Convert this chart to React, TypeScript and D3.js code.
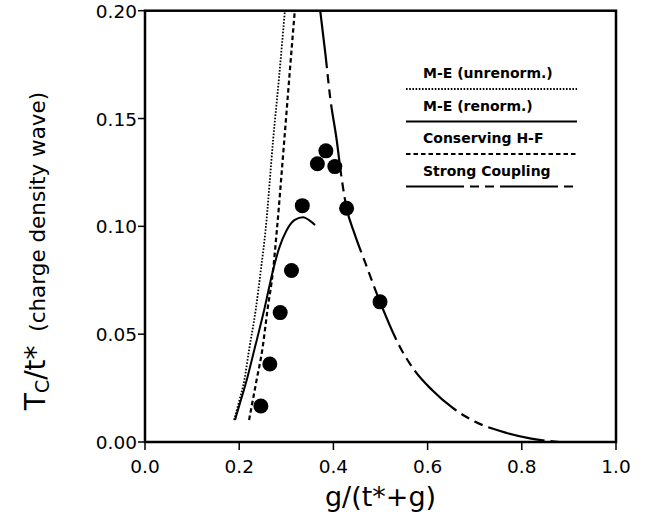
import { useEffect } from "react";
import * as d3 from "d3";

const W = 657;
const H = 518;

const xTicks = [0, 0.2, 0.4, 0.6, 0.8, 1.0];
const yTicks = [0, 0.05, 0.1, 0.15, 0.2];

// measured points (gap ratio g/(t*+g) , Tc/t*)
const meUnrenorm = [
  [0.189, 0.0102], [0.2, 0.019], [0.211, 0.0288], [0.221, 0.0427],
  [0.235, 0.0612], [0.246, 0.0798], [0.256, 0.0983], [0.272, 0.14],
  [0.285, 0.17], [0.297, 0.2],
];
const meRenorm = [
  [0.191, 0.0102], [0.203, 0.019], [0.216, 0.0288], [0.232, 0.0427],
  [0.253, 0.0612], [0.272, 0.0798], [0.285, 0.09], [0.301, 0.0983],
  [0.318, 0.103], [0.336, 0.1042], [0.349, 0.1028], [0.361, 0.1006],
];
const conservingHF = [
  [0.221, 0.0102], [0.237, 0.0288], [0.249, 0.0427], [0.26, 0.0612],
  [0.272, 0.0798], [0.28, 0.0983], [0.295, 0.138], [0.306, 0.168],
  [0.318, 0.2],
];
const strongCoupling = [
  [0.372, 0.2], [0.383, 0.18], [0.393, 0.16], [0.407, 0.14],
  [0.417, 0.123], [0.428, 0.1085], [0.445, 0.0965], [0.467, 0.0835],
  [0.499, 0.065], [0.541, 0.0442], [0.573, 0.033], [0.61, 0.024],
  [0.652, 0.016], [0.7, 0.0095], [0.768, 0.0042], [0.82, 0.0016],
  [0.88, 0],
];
const qmcX = [0.246, 0.265, 0.287, 0.311, 0.334, 0.366, 0.384, 0.403, 0.428, 0.499];
const qmcY = [0.0167, 0.0362, 0.06, 0.0795, 0.1096, 0.129, 0.135, 0.1277, 0.1084, 0.065];

const legend = [
  { label: "M-E (unrenorm.)", dash: "1.6,1.6", width: 1.8 },
  { label: "M-E (renorm.)", dash: null, width: 2 },
  { label: "Conserving H-F", dash: "4.5,3", width: 2.2 },
  { label: "Strong Coupling", dash: "58,6,9,6,9,6", width: 2.2 },
];

const FONT = "'DejaVu Sans', sans-serif";

export default function App() {
  useEffect(() => {
    document.body.style.margin = "0";
  }, []);

  const x = d3.scaleLinear().domain([0, 1]).range([145, 616]);
  const y = d3.scaleLinear().domain([0, 0.2]).range([442, 10.7]);

  const line = d3
    .line<number[]>()
    .x((d) => x(d[0]))
    .y((d) => y(d[1]))
    .curve(d3.curveMonotoneX);

  return (
    <svg width={W} height={H} style={{ display: "block", background: "#fff" }}>
      <defs>
        <clipPath id="plot">
          <rect x={x(0)} y={y(0.2)} width={x(1) - x(0)} height={y(0) - y(0.2)} />
        </clipPath>
      </defs>

      <g clipPath="url(#plot)" fill="none" stroke="#000">
        <path d={line(meUnrenorm) || ""} strokeWidth={1.8} strokeDasharray="1.6,1.6" />
        <path d={line(meRenorm) || ""} strokeWidth={2} />
        <path d={line(conservingHF) || ""} strokeWidth={2.2} strokeDasharray="4.5,3" />
        <path d={line(strongCoupling) || ""} strokeWidth={2.2} strokeDasharray="58,6,9,6,9,6" />
      </g>

      {qmcX.map((v, i) => (
        <circle key={i} cx={x(v)} cy={y(qmcY[i])} r={7.5} fill="#000" />
      ))}

      {/* frame */}
      <rect
        x={x(0)}
        y={y(0.2)}
        width={x(1) - x(0)}
        height={y(0) - y(0.2)}
        fill="none"
        stroke="#000"
        strokeWidth={2.5}
      />

      {xTicks.map((t) => (
        <g key={t}>
          <line x1={x(t)} x2={x(t)} y1={y(0)} y2={y(0) + 8} stroke="#000" strokeWidth={1.5} />
          <text
            x={x(t)}
            y={y(0) + 31}
            textAnchor="middle"
            fontFamily={FONT}
            fontSize={18.5}
          >
            {t.toFixed(1)}
          </text>
        </g>
      ))}

      {yTicks.map((t) => (
        <g key={t}>
          <line x1={x(0) - 7} x2={x(0)} y1={y(t)} y2={y(t)} stroke="#000" strokeWidth={1.5} />
          <text
            x={x(0) - 8}
            y={y(t) + 7}
            textAnchor="end"
            fontFamily={FONT}
            fontSize={18.5}
          >
            {t.toFixed(2)}
          </text>
        </g>
      ))}

      <text x={x(0.5)} y={506} textAnchor="middle" fontFamily={FONT} fontSize={27}>
        g/(t*+g)
      </text>

      <text
        transform={`translate(45,${251}) rotate(-90)`}
        textAnchor="middle"
        fontFamily={FONT}
      >
        <tspan fontSize={28}>T</tspan>
        <tspan fontSize={19} dy={4}>C</tspan>
        <tspan fontSize={28} dy={-4}>/t*</tspan>
        <tspan fontSize={21.5}>{"\u00a0\u00a0(charge density wave)"}</tspan>
      </text>

      {legend.map((l, i) => {
        const ly = 89 + i * 32.5;
        return (
          <g key={l.label}>
            <text
              x={423}
              y={ly - 11}
              fontFamily={FONT}
              fontSize={14}
              fontWeight="bold"
            >
              {l.label}
            </text>
            <line
              x1={406}
              x2={577}
              y1={ly}
              y2={ly}
              stroke="#000"
              strokeWidth={l.width}
              strokeDasharray={l.dash || undefined}
            />
          </g>
        );
      })}
    </svg>
  );
}
